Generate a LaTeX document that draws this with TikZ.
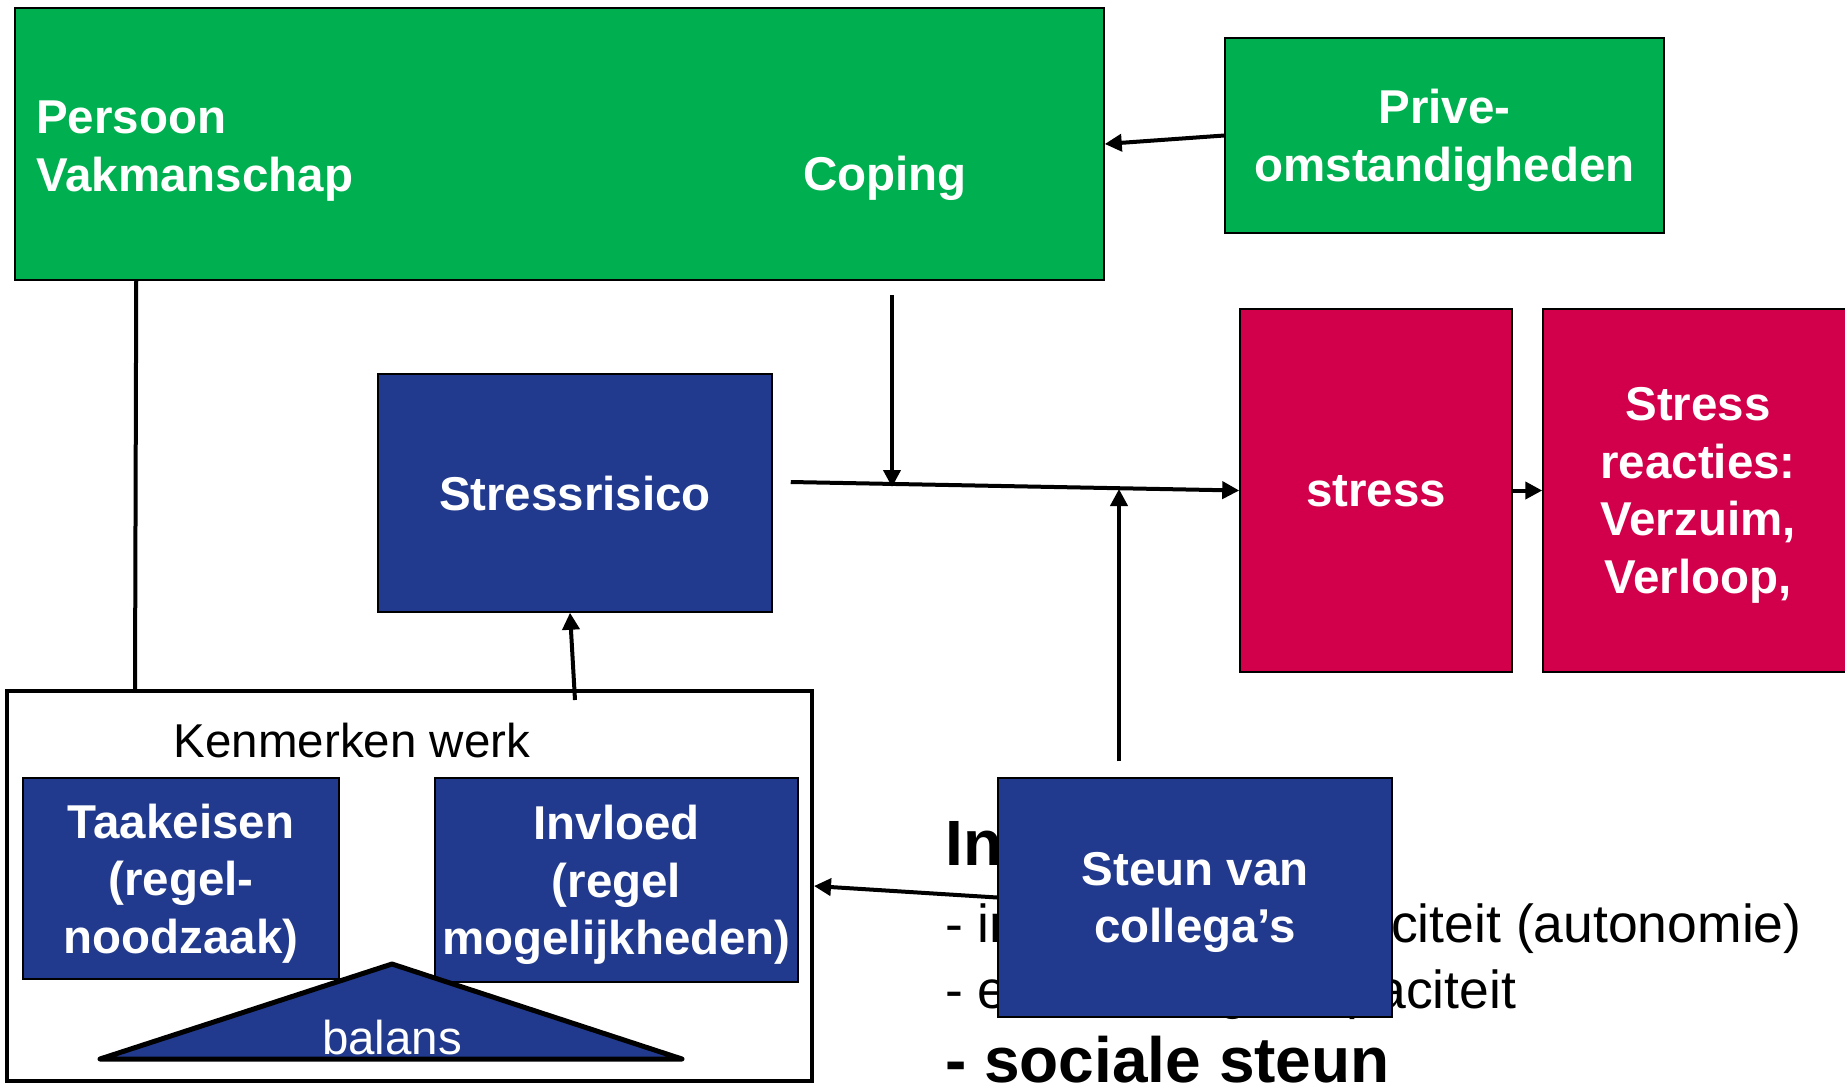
\documentclass[tikz,border=0pt]{standalone}
\usepackage{fontspec}
\setmainfont{Liberation Sans}
\usetikzlibrary{arrows.meta}
\definecolor{mygreen}{HTML}{00B050}
\definecolor{myblue}{HTML}{223A8E}
\definecolor{myred}{HTML}{D2004B}
\newcommand\boxfont{\fontsize{47.5}{57.5}\selectfont\bfseries}
\newcommand\plainfont{\fontsize{47.5}{57.5}\selectfont}
\begin{document}
\begin{tikzpicture}[x=1pt,y=-1pt,
  box/.style={draw=black, line width=1.5pt, inner sep=0pt, align=center, text=white, font=\boxfont, text depth=0pt},
  greenbox/.style={box, fill=mygreen},
  bluebox/.style={box, fill=myblue},
  redbox/.style={box, fill=myred},
  arr/.style={line width=4pt, -{Triangle[length=17pt,width=17pt]}},
  plainline/.style={line width=4pt},
  bgtext/.style={anchor=base west, inner sep=0pt, text=black}
]
\clip (0,0) rectangle (1845,1088);
\fill[white] (0,0) rectangle (1845,1088);

% top green boxes
\node[greenbox, minimum width=1089pt, minimum height=272pt] (persoon) at (559.5,144) {};
\node[anchor=west, inner sep=0pt, text=white, font=\boxfont, align=left, text depth=0pt] (persoontxt) at (36,146) {Persoon\\Vakmanschap};
\node[inner sep=0pt, text=white, font=\boxfont] (coping) at (885,178) {Coping};
\node[greenbox, minimum width=439pt, minimum height=195pt] (prive) at (1444.5,135.5) {Prive-\\omstandigheden};

% middle row
\node[bluebox, minimum width=394pt, minimum height=238pt] (risico) at (575,493) {Stressrisico};
\node[redbox, minimum width=272pt, minimum height=363pt] (stress) at (1376,490.5) {stress};
\node[redbox, minimum width=310pt, minimum height=363pt] (reacties) at (1698,490.5) {Stress\\reacties:\\Verzuim,\\Verloop,};

% Kenmerken werk
\node[draw=black, line width=4pt, fill=white, minimum width=805pt, minimum height=390pt, inner sep=0pt] (kenmerken) at (409.5,886) {};
\node[inner sep=0pt, font=\plainfont] (kentxt) at (352,741) {Kenmerken werk};
\node[bluebox, minimum width=316pt, minimum height=201pt] (taak) at (181,878.5) {Taakeisen\\(regel-\\noodzaak)};
\node[bluebox, minimum width=363pt, minimum height=204pt] (invloed) at (616.5,880) {Invloed\\(regel\\mogelijkheden)};
\draw[fill=myblue, line width=5pt, line join=round, line cap=round] (392,964) -- (682,1059) -- (100,1059) -- cycle;
\node[inner sep=0pt, text=white, font=\plainfont] (balans) at (392,1038) {balans};

% background text
\node[bgtext, font=\fontsize{64}{64}\selectfont\bfseries] (bgh) at (945,865) {Invloed};
\node[bgtext, font=\fontsize{53.5}{53.5}\selectfont] (bg1) at (945,942) {- interne regelcapaciteit (autonomie)};
\node[bgtext, font=\fontsize{53.5}{53.5}\selectfont] (bg2) at (945,1008) {- externe regelcapaciteit};
\node[bgtext, font=\fontsize{64}{64}\selectfont\bfseries] (bg3) at (945,1082) {- sociale steun};

% Steun box
\node[bluebox, minimum width=394pt, minimum height=239pt] (steun) at (1195,897.5) {Steun van\\collega’s};

% connectors
\coordinate (copstart) at (892,295);
\coordinate (copend) at (892,487);
\coordinate (steunend) at (1119,489);
\draw[arr] (prive.west) -- (persoon.east);
\draw[plainline] ([xshift=122pt]persoon.south west) -- ([xshift=130pt]kenmerken.north west);
\draw[arr] ([xshift=18pt,yshift=11pt]risico.east) -- (stress.west);
\draw[arr] (copstart) -- (copend);
\draw[arr] ([xshift=-76pt,yshift=16pt]steun.north) -- (steunend);
\draw[arr] (stress.east) -- (reacties.west);
\draw[arr] ([xshift=165.5pt,yshift=-11pt]kenmerken.north) -- ([xshift=-5pt]risico.south);
\draw[arr] (steun.west) -- (kenmerken.east);
\end{tikzpicture}
\end{document}
